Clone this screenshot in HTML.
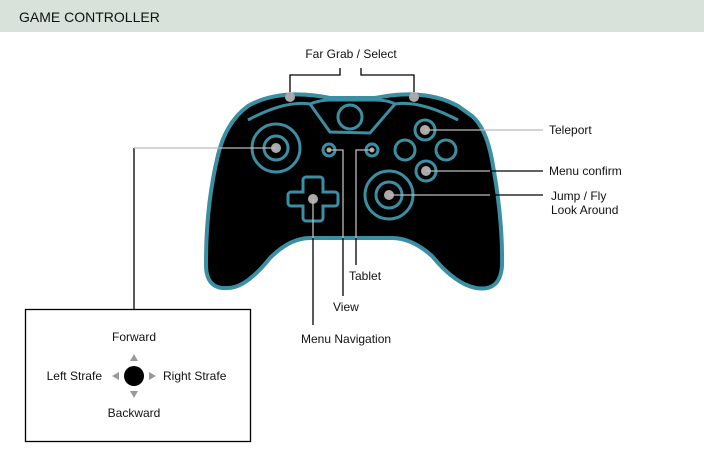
<!DOCTYPE html>
<html><head><style>
body{margin:0;width:704px;height:462px;background:#fff;font-family:"Liberation Sans",sans-serif;overflow:hidden;position:relative}
.h{position:absolute;left:0;top:0;width:704px;height:32px;background:#d8e2da}
.h span{position:absolute;left:19px;top:9px;font-size:14px;color:#111}
</style></head><body>
<div class="h"><span>GAME CONTROLLER</span></div>
<svg width="704" height="462" style="position:absolute;left:0;top:0" font-family="Liberation Sans, sans-serif" font-size="12" fill="#111">
<g fill="none" stroke="#000" stroke-width="1.3">
<polyline points="290,92 290,75 340,75 340,68"/>
<polyline points="361,68 361,75 414,75 414,92"/>
<polyline points="134,148 134,309"/>
</g>
<path d="M248,106 Q280,88 330,98 L375,98 Q425,88 458,106 L472,116 Q486,128 492,160 Q503,220 502,266 Q500,292 476,288 Q455,284 432,256 Q412,238 392,238 L310,238 Q290,238 270,258 Q246,288 228,288 Q205,290 206,262 Q206,205 218,155 Q226,122 248,106 Z" fill="#000" stroke="#3a8fa3" stroke-width="4"/>
<g fill="none" stroke="#3a8fa3" stroke-width="3">
<path d="M248,120 Q285,100 310,104 L330,132 L370,133 L395,104 Q420,100 458,120"/>
<path d="M310,104 Q320,100 330,100 L375,100 Q388,100 395,104"/>
<circle cx="350" cy="117" r="12"/>
<circle cx="276" cy="148" r="24"/><circle cx="276" cy="148" r="12"/>
<circle cx="329" cy="150" r="6"/><circle cx="372" cy="150" r="6"/>
<circle cx="425" cy="130" r="10"/><circle cx="405" cy="150" r="10"/><circle cx="446" cy="150" r="10"/><circle cx="426" cy="171" r="10"/>
<circle cx="389" cy="195" r="24"/><circle cx="389" cy="195" r="13"/>
<path d="M306,177 h14 a3,3 0 0 1 3,3 v12 h12 a3,3 0 0 1 3,3 v8 a3,3 0 0 1 -3,3 h-12 v12 a3,3 0 0 1 -3,3 h-14 a3,3 0 0 1 -3,-3 v-12 h-12 a3,3 0 0 1 -3,-3 v-8 a3,3 0 0 1 3,-3 h12 v-12 a3,3 0 0 1 3,-3 z"/>
</g>
<g fill="#aaa">
<circle cx="290" cy="97" r="5"/><circle cx="414" cy="97" r="5"/>
<circle cx="276" cy="148" r="5"/><circle cx="329" cy="150" r="2.5"/><circle cx="372" cy="150" r="2.5"/>
<circle cx="425" cy="130" r="5"/><circle cx="426" cy="171" r="5"/><circle cx="389" cy="195" r="5"/><circle cx="313" cy="199" r="5"/>
</g>
<g fill="none" stroke="#bbb" stroke-width="1.3">
<polyline points="276,148 134,148"/>
<polyline points="425,130 543,130"/><polyline points="426,171 490,171"/><polyline points="389,195 490,195"/>
<polyline points="313,199 313,238"/><polyline points="329,150 343,150 343,238"/><polyline points="372,150 356,150 356,238"/>
</g>
<g fill="none" stroke="#000" stroke-width="1.3">
<polyline points="490,171 543,171"/><polyline points="490,195 543,195"/>
<polyline points="313,238 313,325"/><polyline points="343,238 343,296"/><polyline points="356,238 356,265"/>
<rect x="25.5" y="309.5" width="225" height="132"/>
</g>
<text x="351" y="58" text-anchor="middle">Far Grab / Select</text>
<text x="549" y="134">Teleport</text>
<text x="549" y="175">Menu confirm</text>
<text x="551" y="200">Jump / Fly</text>
<text x="551" y="214">Look Around</text>
<text x="349" y="280">Tablet</text>
<text x="333" y="311">View</text>
<text x="301" y="343">Menu Navigation</text>
<text x="134" y="341" text-anchor="middle">Forward</text>
<text x="134" y="417" text-anchor="middle">Backward</text>
<text x="102" y="380" text-anchor="end">Left Strafe</text>
<text x="163" y="380">Right Strafe</text>
<circle cx="134" cy="376" r="10" fill="#000"/>
<g fill="#999">
<polygon points="134,354 130,361 138,361"/><polygon points="134,398 130,391 138,391"/>
<polygon points="112,376 119,372 119,380"/><polygon points="156,376 149,372 149,380"/>
</g>
</svg>
</body></html>
